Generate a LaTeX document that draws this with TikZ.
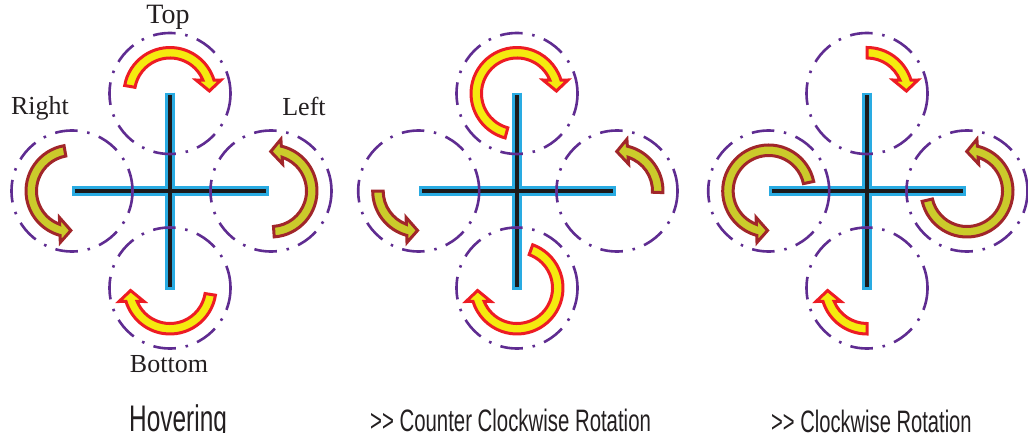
\documentclass[tikz,border=0pt]{standalone}
\usepackage{fontspec}
\usepackage{graphicx}
\newfontfamily\capfont{Liberation Sans}
\newfontfamily\namefont{Liberation Serif}
\definecolor{rotorpurple}{HTML}{5F2C91}
\definecolor{armcyan}{HTML}{29ABE2}
\definecolor{armblack}{HTML}{1C1A1B}
\definecolor{fastfill}{HTML}{F5EA0F}
\definecolor{fastline}{HTML}{ED1C24}
\definecolor{slowfill}{HTML}{CBCB2B}
\definecolor{slowline}{HTML}{A1262A}
\definecolor{inktext}{HTML}{231F20}
\tikzset{
  rotorring/.style={draw=rotorpurple,line width=2.6pt,dash pattern=on 22.6pt off 9.9pt on 2.5pt off 9.72pt},
  armout/.style={draw=armcyan,line width=9.2pt},
  armin/.style={draw=armblack,line width=3.8pt,shorten >=2.8pt,shorten <=2.8pt},
  fastarrow/.style={fill=fastfill,draw=fastline,line width=3pt,miter limit=10},
  slowarrow/.style={fill=slowfill,draw=slowline,line width=3pt,miter limit=10},
  namelabel/.style={inner sep=0pt,text=inktext,font=\namefont\fontsize{26}{26}\selectfont},
  caplabel/.style={inner sep=0pt,anchor=base west,text=inktext}
}
% centre, rotation, mirror sign, start angle in the local frame, style
\newcommand{\spinarrow}[5]{%
  \begin{scope}[shift={(#1)},rotate=#2,yscale=#3]
    \path[#5] (#4:46pt) arc[start angle=#4,end angle=17,radius=46pt]
      -- (51pt,13.5pt) -- (39.4pt,2.5pt) -- (26pt,13.5pt) -- (22.3:35.5pt)
      arc[start angle=22.3,end angle=#4,radius=35.5pt] -- cycle;
  \end{scope}}
% prefix, centre x, left rotor x, right rotor x
\newcommand{\quadframe}[4]{%
  \coordinate (#1W) at (#2-98,249);
  \coordinate (#1E) at (#2+98.5,249);
  \coordinate (#1N) at (#2,347.3);
  \coordinate (#1S) at (#2,150.5);
  \coordinate (#1rt) at (#2,346.5);
  \coordinate (#1rb) at (#2,152);
  \coordinate (#1rl) at (#3,249);
  \coordinate (#1rr) at (#4,249);
  \draw[armout] (#1W) -- (#1E);
  \draw[armout] (#1N) -- (#1S);
  \draw[armin] (#1W) -- (#1E);
  \draw[armin] (#1N) -- (#1S);
  \foreach \r in {rt,rb,rl,rr} {\path[rotorring] (#1\r) circle (60.5pt);}
}
\begin{document}
\begin{tikzpicture}[x=1pt,y=1pt]
\useasboundingbox (0,0) rectangle (1028,440);
\quadframe{a}{170}{72}{271}
\quadframe{b}{517}{418.7}{617}
\quadframe{c}{867}{768.7}{967}
% hovering
\spinarrow{art}{0}{1}{170}{fastarrow}
\spinarrow{arb}{180}{1}{171}{fastarrow}
\spinarrow{arl}{272}{-1}{172}{slowarrow}
\spinarrow{arr}{94}{-1}{180}{slowarrow}
% counter clockwise
\spinarrow{brt}{0}{1}{255}{fastarrow}
\spinarrow{brb}{180}{1}{250}{fastarrow}
\spinarrow{brl}{272}{-1}{92}{slowarrow}
\spinarrow{brr}{94}{-1}{96}{slowarrow}
% clockwise
\spinarrow{crt}{0}{1}{90}{fastarrow}
\spinarrow{crb}{180}{1}{90}{fastarrow}
\spinarrow{crl}{272}{-1}{260}{slowarrow}
\spinarrow{crr}{94}{-1}{261}{slowarrow}
% labels
\node[namelabel,font=\namefont\fontsize{28}{28}\selectfont] (ltop) at (168,423) {Top};
\node[namelabel] (lright) at (40,332) {Right};
\node[namelabel] (lleft) at (304,334) {Left};
\node[namelabel] (lbottom) at (169,76) {Bottom};
\begin{scope}
\clip (0,8) rectangle (1028,440);
\node[caplabel] (chover) at (129,9) {\scalebox{0.66}[1]{\capfont\fontsize{37}{37}\selectfont Hovering}};
\end{scope}
\node[caplabel] (cccw) at (370,9) {\scalebox{0.657}[1]{\capfont\fontsize{31}{31}\selectfont >{}> Counter Clockwise Rotation}};
\node[caplabel] (ccw) at (771,8) {\scalebox{0.65}[1]{\capfont\fontsize{31}{31}\selectfont >{}> Clockwise Rotation}};
\end{tikzpicture}
\end{document}
